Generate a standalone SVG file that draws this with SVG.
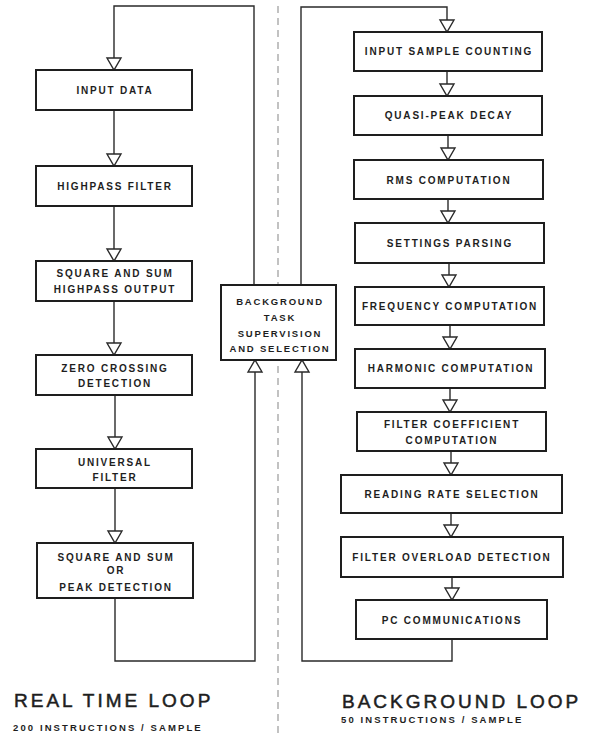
<svg xmlns="http://www.w3.org/2000/svg" width="589" height="736" viewBox="0 0 589 736">
<defs>
<style>
.box{fill:#fff;stroke:#1e1e1e;stroke-width:2}
.ln{fill:none;stroke:#2a2a2a;stroke-width:1.4}
.t{font-family:"Liberation Sans",Arial,sans-serif;font-weight:bold;font-size:10px;letter-spacing:1.8px;fill:#1e1e1e;text-anchor:middle}
.bt{font-family:"Liberation Sans",Arial,sans-serif;font-weight:bold;font-size:9.5px;letter-spacing:1.8px;fill:#1e1e1e;text-anchor:middle}
.title{font-family:"Liberation Sans",Arial,sans-serif;font-size:19px;letter-spacing:3px;fill:#1e1e1e;stroke:#1e1e1e;stroke-width:0.5}
.sub{font-family:"Liberation Sans",Arial,sans-serif;font-weight:bold;font-size:9.5px;letter-spacing:2.1px;fill:#1e1e1e}
.div{stroke:#9a9a9a;stroke-width:1.2;stroke-dasharray:7 5;fill:none}
</style>
<marker id="tri" markerUnits="userSpaceOnUse" markerWidth="16" markerHeight="16" refX="12" refY="7" orient="auto" overflow="visible">
<path d="M0,0 L12,7 L0,14 Z" fill="#fff" stroke="#2a2a2a" stroke-width="1.4"/>
</marker>
</defs>
<rect width="589" height="736" fill="#fff"/>
<line class="div" x1="278" y1="6" x2="278" y2="736"/>

<g id="connectors">
<path class="ln" d="M254,285 V6 H114 V70" marker-end="url(#tri)"/>
<path class="ln" d="M114,110 V166" marker-end="url(#tri)"/>
<path class="ln" d="M114,206 V261" marker-end="url(#tri)"/>
<path class="ln" d="M114,301 V355" marker-end="url(#tri)"/>
<path class="ln" d="M115,395 V449" marker-end="url(#tri)"/>
<path class="ln" d="M115,488 V543" marker-end="url(#tri)"/>
<path class="ln" d="M115,598 V661 H255 V360" marker-end="url(#tri)"/>
<path class="ln" d="M301,285 V7 H447 V32" marker-end="url(#tri)"/>
<path class="ln" d="M447,71 V96" marker-end="url(#tri)"/>
<path class="ln" d="M448,135 V160" marker-end="url(#tri)"/>
<path class="ln" d="M448,199 V223" marker-end="url(#tri)"/>
<path class="ln" d="M449,263 V287" marker-end="url(#tri)"/>
<path class="ln" d="M450,325 V349" marker-end="url(#tri)"/>
<path class="ln" d="M450,388 V412" marker-end="url(#tri)"/>
<path class="ln" d="M451,451 V475" marker-end="url(#tri)"/>
<path class="ln" d="M451,513 V537" marker-end="url(#tri)"/>
<path class="ln" d="M452,577 V600" marker-end="url(#tri)"/>
<path class="ln" d="M452,639 V661 H302 V360" marker-end="url(#tri)"/>
</g>

<g id="input-data"><rect class="box" x="36" y="70" width="156" height="40"/><text class="t" x="115" y="94">INPUT DATA</text></g>
<g id="highpass-filter"><rect class="box" x="36" y="166" width="156" height="40"/><text class="t" x="115" y="190">HIGHPASS FILTER</text></g>
<g id="square-sum-highpass"><rect class="box" x="36" y="261" width="156" height="40"/><text class="t" x="115" y="277">SQUARE AND SUM</text><text class="t" x="115" y="293">HIGHPASS OUTPUT</text></g>
<g id="zero-crossing"><rect class="box" x="36" y="355" width="156" height="40"/><text class="t" x="115" y="372">ZERO CROSSING</text><text class="t" x="115" y="387">DETECTION</text></g>
<g id="universal-filter"><rect class="box" x="36" y="449" width="156" height="39"/><text class="t" x="115" y="466">UNIVERSAL</text><text class="t" x="115" y="481">FILTER</text></g>
<g id="square-sum-peak"><rect class="box" x="37" y="543" width="156" height="55"/><text class="t" x="116" y="561">SQUARE AND SUM</text><text class="t" x="116" y="574">OR</text><text class="t" x="116" y="591">PEAK DETECTION</text></g>

<g id="background-task"><rect class="box" x="221" y="285" width="115" height="75"/><text class="bt" x="280" y="305">BACKGROUND</text><text class="bt" x="280" y="321">TASK</text><text class="bt" x="280" y="337">SUPERVISION</text><text class="bt" x="280" y="352">AND SELECTION</text></g>

<g id="input-sample-counting"><rect class="box" x="354" y="32" width="188" height="39"/><text class="t" x="449" y="55">INPUT SAMPLE COUNTING</text></g>
<g id="quasi-peak-decay"><rect class="box" x="354" y="96" width="188" height="39"/><text class="t" x="449" y="119">QUASI-PEAK DECAY</text></g>
<g id="rms-computation"><rect class="box" x="354" y="160" width="189" height="39"/><text class="t" x="449" y="184">RMS COMPUTATION</text></g>
<g id="settings-parsing"><rect class="box" x="355" y="223" width="189" height="40"/><text class="t" x="450" y="247">SETTINGS PARSING</text></g>
<g id="frequency-computation"><rect class="box" x="355" y="287" width="189" height="38"/><text class="t" x="450" y="310">FREQUENCY COMPUTATION</text></g>
<g id="harmonic-computation"><rect class="box" x="355" y="349" width="190" height="39"/><text class="t" x="451" y="372">HARMONIC COMPUTATION</text></g>
<g id="filter-coefficient"><rect class="box" x="357" y="412" width="189" height="39"/><text class="t" x="452" y="428">FILTER COEFFICIENT</text><text class="t" x="452" y="444">COMPUTATION</text></g>
<g id="reading-rate"><rect class="box" x="341" y="475" width="221" height="38"/><text class="t" x="452" y="498">READING RATE SELECTION</text></g>
<g id="filter-overload"><rect class="box" x="341" y="537" width="222" height="40"/><text class="t" x="452" y="561">FILTER OVERLOAD DETECTION</text></g>
<g id="pc-communications"><rect class="box" x="356" y="600" width="191" height="39"/><text class="t" x="452" y="624">PC COMMUNICATIONS</text></g>

<g id="labels">
<text class="title" x="14" y="707">REAL TIME LOOP</text>
<text class="sub" x="13" y="731">200 INSTRUCTIONS / SAMPLE</text>
<text class="title" x="342" y="708">BACKGROUND LOOP</text>
<text class="sub" x="341" y="723">50 INSTRUCTIONS / SAMPLE</text>
</g>
</svg>
